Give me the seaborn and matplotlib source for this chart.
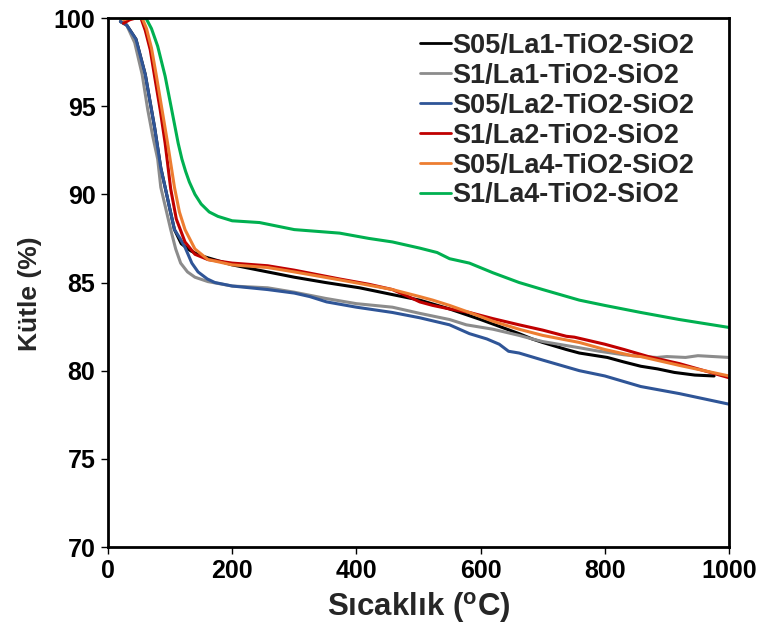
import matplotlib
matplotlib.use("Agg")
import matplotlib.pyplot as plt
import seaborn as sns
import pandas as pd

# ---- data ----
names = ["S05/La1-TiO2-SiO2", "S1/La1-TiO2-SiO2", "S05/La2-TiO2-SiO2",
         "S1/La2-TiO2-SiO2", "S05/La4-TiO2-SiO2", "S1/La4-TiO2-SiO2"]
colors = ["#000000", "#8c8c8c", "#2f5597", "#c00000", "#ed7d31", "#00b050"]

t_black = [20, 30, 45, 60, 75, 85, 92, 100, 107, 118, 133, 147, 161, 200, 257, 300, 350, 405, 460, 502,
           550, 600, 662, 683, 700, 738, 759, 804, 830, 858, 885, 912, 945, 976]
v_black = [99.8, 99.6, 98.8, 96.8, 93.8, 91.5, 90.4, 89.1, 88.0, 87.2, 86.8, 86.55, 86.4, 86.0, 85.6, 85.3, 85.0, 84.7, 84.3, 84.0,
           83.5, 82.9, 82.1, 81.8, 81.6, 81.2, 81.0, 80.75, 80.5, 80.25, 80.1, 79.9, 79.75, 79.7]

t_gray = [20, 30, 43, 55, 64, 72, 80, 85, 93, 101, 109, 117, 128, 140, 161, 200, 257, 300, 350, 400, 458, 502,
          550, 577, 620, 662, 683, 700, 759, 791, 831, 860, 884, 900, 930, 950, 1000]
v_gray = [99.8, 99.6, 98.6, 96.8, 94.8, 93.3, 92.0, 90.4, 89.2, 88.0, 86.9, 86.1, 85.6, 85.3, 85.05, 84.8, 84.7, 84.45, 84.1, 83.8, 83.6, 83.25,
          82.9, 82.6, 82.35, 82.0, 81.8, 81.65, 81.3, 81.1, 80.9, 80.8, 80.75, 80.8, 80.75, 80.85, 80.75]

t_blue = [20, 30, 45, 60, 75, 85, 92, 100, 107, 116, 124, 135, 145, 160, 172, 200, 257, 300, 325, 352, 400, 458, 502,
          550, 582, 610, 630, 645, 662, 700, 759, 800, 858, 920, 1000]
v_blue = [99.8, 99.6, 98.8, 96.8, 93.8, 91.5, 90.4, 89.1, 88.0, 87.5, 87.0, 86.1, 85.6, 85.2, 85.0, 84.8, 84.6, 84.4, 84.2, 83.9, 83.6, 83.3, 83.0,
          82.6, 82.1, 81.8, 81.5, 81.1, 81.0, 80.6, 80.0, 79.7, 79.1, 78.7, 78.1]

t_red = [25, 35, 45, 53, 60, 68, 75, 84, 92, 101, 110, 124, 140, 161, 200, 257, 300, 373, 420, 458, 490, 502,
         523, 550, 582, 620, 662, 700, 738, 751, 800, 831, 870, 920, 960, 1000]
v_red = [99.7, 99.9, 100, 100, 99.3, 98.2, 96.7, 94.8, 92.9, 90.3, 88.6, 87.3, 86.6, 86.3, 86.1, 85.95, 85.7, 85.2, 84.9, 84.6, 84.1, 83.9,
         83.7, 83.5, 83.3, 82.95, 82.6, 82.3, 81.95, 81.9, 81.5, 81.2, 80.8, 80.4, 80.0, 79.6]

t_orange = [25, 35, 45, 55, 62, 70, 78, 87, 96, 107, 115, 124, 140, 161, 200, 257, 300, 373, 420, 458, 502,
            523, 550, 582, 620, 662, 700, 759, 800, 844, 858, 920, 1000]
v_orange = [99.9, 100, 100, 100, 99.4, 98.3, 96.7, 94.8, 92.9, 90.4, 89.0, 88.0, 86.9, 86.3, 86.0, 85.85, 85.6, 85.15, 84.85, 84.6, 84.2,
            84.0, 83.7, 83.3, 82.8, 82.35, 82.0, 81.6, 81.2, 80.85, 80.8, 80.3, 79.7]

t_green = [20, 30, 45, 61, 70, 80, 92, 102, 113, 119, 125, 131, 140, 150, 163, 177, 200, 244, 300, 373, 420, 458, 502,
           530, 550, 582, 620, 662, 700, 759, 800, 858, 920, 1000]
v_green = [100, 100, 100, 100, 99.4, 98.4, 96.7, 94.9, 92.9, 92.0, 91.3, 90.7, 90.0, 89.45, 89.0, 88.75, 88.5, 88.4, 88.0, 87.8, 87.5, 87.3, 86.95,
           86.7, 86.35, 86.1, 85.55, 85.0, 84.6, 84.0, 83.7, 83.3, 82.9, 82.45]

x_ticks = [0, 200, 400, 600, 800, 1000]
y_ticks = [70, 75, 80, 85, 90, 95, 100]

series_t = [t_black, t_gray, t_blue, t_red, t_orange, t_green]
series_v = [v_black, v_gray, v_blue, v_red, v_orange, v_green]

frames = []
for n, t, v in zip(names, series_t, series_v):
    frames.append(pd.DataFrame({"T": t, "m": v, "sample": n}))
df = pd.concat(frames, ignore_index=True)

# ---- style ----
sns.set_style("ticks")
plt.rcParams["font.family"] = ["Liberation Sans", "DejaVu Sans"]
plt.rcParams["font.weight"] = "bold"
plt.rcParams["mathtext.fontset"] = "custom"
plt.rcParams["mathtext.rm"] = "Liberation Sans:bold"
plt.rcParams["mathtext.bf"] = "Liberation Sans:bold"

fig = plt.figure(figsize=(7.63, 6.43), dpi=100)
ax = fig.add_axes([108 / 763, 1 - 547 / 643, (729 - 108) / 763, (547 - 18) / 643])

sns.lineplot(data=df, x="T", y="m", hue="sample", hue_order=names,
             palette=dict(zip(names, colors)), sort=False, estimator=None,
             units="sample", linewidth=2.2, ax=ax)

ax.set_xlim(0, 1000)
ax.set_ylim(70, 100)
ax.set_xticks(x_ticks)
ax.set_yticks(y_ticks)
ax.tick_params(axis="both", direction="out", length=5, width=1, labelsize=18,
               colors="black", pad=4)
for lab in ax.get_xticklabels() + ax.get_yticklabels():
    lab.set_fontweight("bold")
for s in ax.spines.values():
    s.set_visible(True)
    s.set_linewidth(2.0)
    s.set_color("black")

ax.set_xlabel(r"Sıcaklık ($^{\mathrm{o}}$C)", fontsize=22.5, fontweight="bold", labelpad=5)
ax.set_ylabel("Kütle (%)", fontsize=19, fontweight="bold")
ax.yaxis.set_label_coords(-0.106, 0.478)

leg = ax.legend(loc="upper left", bbox_to_anchor=(0.503, 0.972), frameon=False,
                fontsize=19.5, handlelength=1.12, handletextpad=0.05,
                labelspacing=0.145, borderpad=0, borderaxespad=0)
for txt in leg.get_texts():
    txt.set_fontweight("bold")
for ln in leg.get_lines():
    ln.set_linewidth(2.0)

fig.savefig("out.png", dpi=100)
